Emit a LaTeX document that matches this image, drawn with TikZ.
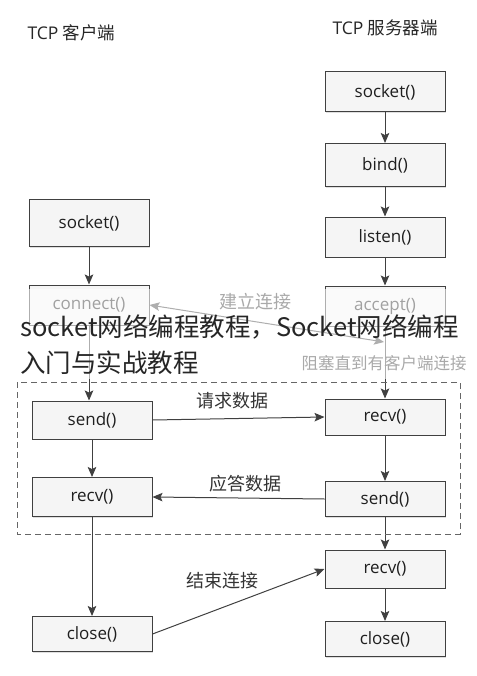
\documentclass[tikz,border=0pt]{standalone}
\usepackage{fontspec}
\setmainfont{Open Sans}
\newfontfamily\cjk{Noto Sans CJK SC}
\usetikzlibrary{arrows.meta,shadows}

\begin{document}
\begin{tikzpicture}[x=1pt,y=-1pt,
  fn/.style={draw=black!75, fill=black!4, line width=1pt, minimum width=120pt,
    minimum height=40pt, inner sep=0pt, font=\fontsize{17}{20}\selectfont, text=black!88,
    drop shadow={shadow xshift=1.2pt,shadow yshift=-1.2pt,opacity=0.25}},
  flow/.style={draw=black!75, line width=1pt, -{Stealth[length=10pt,width=8.5pt,inset=2pt]}},
  both/.style={flow, {Stealth[length=10pt,width=8.5pt,inset=2pt]}-{Stealth[length=10pt,width=8.5pt,inset=2pt]}},
  lbl/.style={font=\cjk\fontsize{18}{20}\selectfont, text=black!80}]
\useasboundingbox (0,0) rectangle (476,676);

\node[anchor=west, font=\fontsize{17.5}{20}\selectfont, text=black!85] (chead) at (24,33) {TCP {\cjk 客户端}};
\node[anchor=west, font=\fontsize{17.5}{20}\selectfont, text=black!85] (shead) at (329,28) {TCP {\cjk 服务器端}};

\node[fn] (ssock) at (385,92) {socket()};
\node[fn, minimum height=43pt] (sbind) at (385,165) {bind()};
\node[fn] (slist) at (385,237) {listen()};
\node[fn] (sacc) at (385,306) {accept()};
\node[fn, minimum height=36pt] (srecv) at (385,417) {recv()};
\node[fn, minimum height=35pt] (ssend) at (385,499) {send()};
\node[fn, minimum height=38pt] (srecvb) at (385,569) {recv()};
\node[fn, minimum height=35pt] (sclose) at (385,639) {close()};

\node[fn, minimum height=47pt] (csock) at (89,223) {socket()};
\node[fn] (cconn) at (89,305) {connect()};
\node[fn, minimum height=38pt] (csend) at (92,420) {send()};
\node[fn, minimum height=39pt] (crecv) at (92,497) {recv()};
\node[fn, minimum height=35pt] (cclose) at (92,634) {close()};

\coordinate (wait) at (384,342);

\draw[flow] (ssock) -- (sbind);
\draw[flow] (sbind) -- (slist);
\draw[flow] (slist) -- (sacc);
\draw[flow] (sacc) -- (srecv);
\draw[flow] (srecv) -- (ssend);
\draw[flow] (ssend) -- (srecvb);
\draw[flow] (srecvb) -- (sclose);
\draw[flow] (csock) -- (cconn);
\draw[flow] (cconn.south) -- (csend.north -| cconn.south);
\draw[flow] (csend) -- (crecv);
\draw[flow] (crecv) -- (cclose);

\draw[both] (cconn.east) -- (wait);
\draw[flow] (csend.east) -- (srecv.west);
\draw[flow] (ssend.west) -- (crecv.east);
\draw[flow] (cclose.east) -- (srecvb.west);

\node[lbl] (lconn) at (255,302) {建立连接};
\node[lbl] (lreq) at (232,401) {请求数据};
\node[lbl] (lans) at (245,484) {应答数据};
\node[lbl] (lend) at (222,581) {结束连接};
\node[lbl, font=\cjk\fontsize{16.5}{20}\selectfont] (lwait) at (384,363) {阻塞直到有客户端连接};

\draw[dashed, dash pattern=on 6pt off 4pt, black!60, line width=0.9pt] (17,382) rectangle (460,534);

\fill[white, opacity=0.58] (0,289) rectangle (476,379);

\node[anchor=west, inner sep=0pt, font=\cjk\fontsize{25.5}{30}\selectfont, text=black!85] (ttla) at (20,327) {socket网络编程教程，Socket网络编程};
\node[anchor=west, inner sep=0pt, font=\cjk\fontsize{25.5}{30}\selectfont, text=black!85] (ttlb) at (20,363) {入门与实战教程};
\end{tikzpicture}
\end{document}
